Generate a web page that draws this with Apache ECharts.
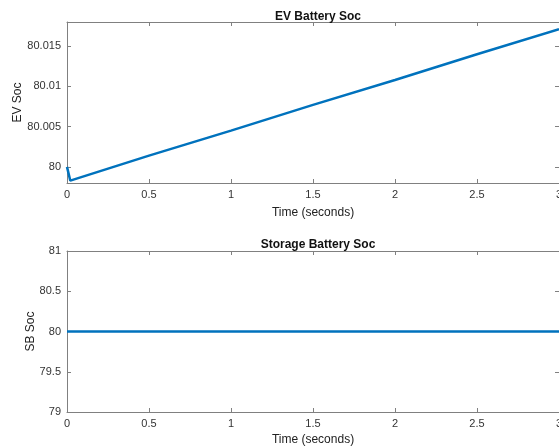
<!DOCTYPE html>
<html>
<head>
<meta charset="utf-8">
<script src="https://cdn.jsdelivr.net/npm/echarts@6/dist/echarts.min.js"></script>
<style>html,body{margin:0;padding:0;background:#fff;}#c{width:559px;height:448px;}</style>
</head>
<body>
<div id="c"></div>
<script>
var timeValues = [0, 0.02, 0.5, 1, 1.5, 2, 2.5, 3];
var evSoc = [80.0, 79.9983, 80.0014, 80.0045, 80.0077, 80.0108, 80.014, 80.0171];
var sbSoc = [80, 80, 80, 80, 80, 80, 80, 80];
var xTicks = [0, 0.5, 1, 1.5, 2, 2.5, 3];
var evTicks = [80, 80.005, 80.01, 80.015];
var sbTicks = [79, 79.5, 80, 80.5, 81];
var titles = ['EV Battery Soc', 'Storage Battery Soc'];
var xName = 'Time (seconds)';
var yNames = ['EV Soc', 'SB Soc'];

var FONT = 'Liberation Sans, Arial, sans-serif';
var AX = '#808080';
function fmt(v){ return String(parseFloat(v.toFixed(6))); }

function xAx(grid, pos, showLabel, nameGap){
  return {
    type:'value', gridIndex:grid, position:pos, min:0, max:3,
    axisLine:{show:true, onZero:false, lineStyle:{color:AX, width:1}},
    axisTick:{show:true, inside:true, length:4, lineStyle:{color:AX}, customValues: xTicks},
    axisLabel:{show:showLabel, customValues: xTicks, formatter: fmt, color:'#333', fontFamily:FONT, fontSize:11, margin:6},
    splitLine:{show:false},
    name: showLabel ? xName : '', nameLocation:'middle', nameGap:nameGap, nameMoveOverlap:false,
    nameTextStyle:{color:'#222', fontFamily:FONT, fontSize:12}
  };
}
function yAx(grid, pos, showLabel, min, max, ticks, name, nameGap){
  return {
    type:'value', gridIndex:grid, position:pos, min:min, max:max,
    axisLine:{show:true, onZero:false, lineStyle:{color:AX, width:1}},
    axisTick:{show:true, inside:true, length:4, lineStyle:{color:AX}, customValues: ticks},
    axisLabel:{show:showLabel, customValues: ticks, formatter: fmt, color:'#333', fontFamily:FONT, fontSize:11, margin:6},
    splitLine:{show:false},
    name: showLabel ? name : '', nameLocation:'middle', nameGap:nameGap, nameRotate:90, nameMoveOverlap:false,
    nameTextStyle:{color:'#222', fontFamily:FONT, fontSize:12}
  };
}

var chart = echarts.init(document.getElementById('c'), null, {renderer:'canvas'});
chart.setOption({
  animation:false,
  backgroundColor:'#fff',
  title:[
    {text:titles[0], left:313, top:6, textAlign:'center', textStyle:{fontFamily:FONT, fontSize:12, fontWeight:'bold', color:'#111'}},
    {text:titles[1], left:313, top:234, textAlign:'center', textStyle:{fontFamily:FONT, fontSize:12, fontWeight:'bold', color:'#111'}}
  ],
  grid:[
    {left:67, top:22, width:492, height:161, containLabel:false, outerBoundsMode:'none'},
    {left:67, top:251, width:492, height:161, containLabel:false, outerBoundsMode:'none'}
  ],
  xAxis:[
    xAx(0,'bottom',true,24),
    xAx(0,'top',false,0),
    xAx(1,'bottom',true,22),
    xAx(1,'top',false,0)
  ],
  yAxis:[
    yAx(0,'left',true,79.998,80.018,evTicks,yNames[0],43),
    yAx(0,'right',false,79.998,80.018,evTicks,'',0),
    yAx(1,'left',true,79,81,sbTicks,yNames[1],30),
    yAx(1,'right',false,79,81,sbTicks,'',0)
  ],
  series:[
    {type:'line', xAxisIndex:0, yAxisIndex:0, showSymbol:false, data: timeValues.map(function(t,i){return [t, evSoc[i]];}),
     lineStyle:{color:'#0072BD', width:2.5}, itemStyle:{color:'#0072BD'}},
    {type:'line', xAxisIndex:2, yAxisIndex:2, showSymbol:false, data: timeValues.map(function(t,i){return [t, sbSoc[i]];}),
     lineStyle:{color:'#0072BD', width:2.5}, itemStyle:{color:'#0072BD'}}
  ]
});
</script>
</body>
</html>
